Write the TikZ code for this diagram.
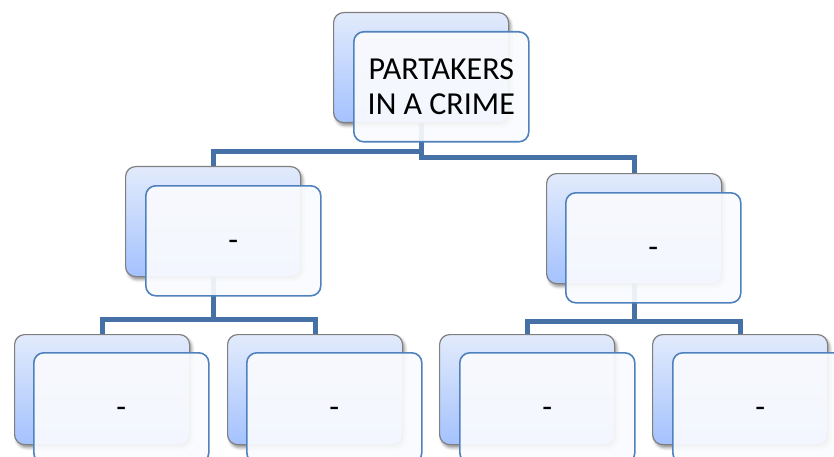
\documentclass[tikz,border=0pt]{standalone}
\usepackage{fontspec}
\setmainfont{Carlito}
\usetikzlibrary{shadows.blur,backgrounds}
\definecolor{conn}{HTML}{4671A6}
\definecolor{backline}{HTML}{7F7F7F}
\definecolor{backtop}{HTML}{E2EBFC}
\definecolor{backbot}{HTML}{A4C2FE}
\definecolor{frontline}{HTML}{4F81BD}
\definecolor{frontfill}{HTML}{FAFBFE}
\begin{document}
\begin{tikzpicture}[x=1pt,y=-1pt,
  backbox/.style={draw=backline, line width=1.2pt, rounded corners=10pt,
    top color=backtop, bottom color=backbot,
    minimum width=175pt, minimum height=110pt, anchor=north west, inner sep=0pt,
    blur shadow={shadow xshift=2pt, shadow yshift=-3pt, shadow blur radius=3pt, shadow opacity=45}},
  frontbox/.style={draw=frontline, line width=1.6pt, rounded corners=10pt,
    fill=frontfill, fill opacity=0.92, text opacity=1,
    minimum width=175pt, minimum height=110pt, anchor=north west,
    inner sep=0pt, font=\fontsize{32}{35}\selectfont},
  dashbox/.style={frontbox, text height=0pt, text depth=0pt},
  link/.style={draw=conn, line width=5pt}]
\useasboundingbox (0,0) rectangle (834,457);
\clip (0,0) rectangle (834,457);
% back boxes
\node[backbox] (top-b) at (333,12) {};
\node[backbox] (L-b) at (125,166) {};
\node[backbox] (R-b) at (546,173) {};
\node[backbox] (LL-b) at (14,334) {};
\node[backbox] (LR-b) at (227,334) {};
\node[backbox] (RL-b) at (439,334) {};
\node[backbox] (RR-b) at (652,334) {};
% front boxes
\node[frontbox, align=center] (top) at (353,31) {PARTAKERS\\IN A CRIME};
\node[dashbox] (L) at (145,185) {\raisebox{-10pt}{-}};
\node[dashbox] (R) at (565,192) {\raisebox{-10pt}{-}};
\node[dashbox] (LL) at (33,352) {\raisebox{-10pt}{-}};
\node[dashbox] (LR) at (246,352) {\raisebox{-10pt}{-}};
\node[dashbox] (RL) at (459,352) {\raisebox{-10pt}{-}};
\node[dashbox] (RR) at (672,352) {\raisebox{-10pt}{-}};
% connectors
\begin{pgfonlayer}{background}
\draw[link] (top-b.south) -- ++(0,28.5) -| (L-b.north);
\draw[link] (top-b.south) -- ++(0,34.5) -| (R-b.north);
\draw[link] (L-b.south) -- ++(0,42) -| (LL-b.north);
\draw[link] (L-b.south) -- ++(0,42) -| (LR-b.north);
\draw[link] (R-b.south) -- ++(0,37) -| (RL-b.north);
\draw[link] (R-b.south) -- ++(0,37) -| (RR-b.north);
\end{pgfonlayer}
\end{tikzpicture}
\end{document}
